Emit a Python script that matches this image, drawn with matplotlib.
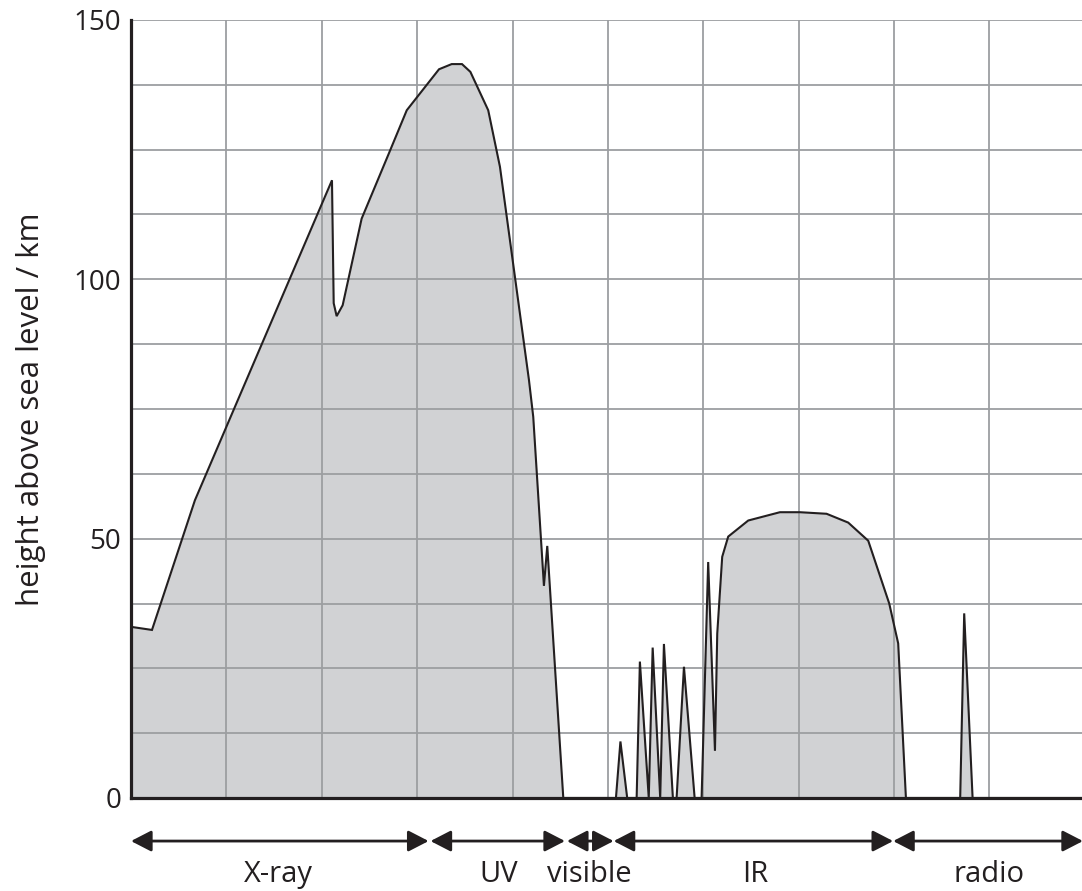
import matplotlib
matplotlib.use("Agg")
import matplotlib.pyplot as plt
from matplotlib.ticker import MultipleLocator

plt.rcParams['font.family'] = ['Open Sans', 'DejaVu Sans']

# x position along the (unlabelled) wavelength axis, in grid units
position = [0.0, 0.22, 0.67, 2.107, 2.125, 2.156, 2.219, 2.418, 2.704, 2.891,
            3.229, 3.362, 3.47, 3.558, 3.745, 3.868, 4.172, 4.217, 4.329, 4.364,
            4.532, 5.084, 5.131, 5.202, 5.301, 5.335, 5.428, 5.469, 5.548, 5.587,
            5.681, 5.720, 5.797, 5.909, 5.982, 6.051, 6.122, 6.146, 6.198, 6.261,
            6.471, 6.803, 7.013, 7.292, 7.519, 7.729, 7.949, 8.043, 8.124, 8.693,
            8.735, 8.823, 9.98]
# height above sea level (km) where radiation is absorbed
height = [33.0, 32.4, 57.4, 119.1, 95.4, 92.9, 95.0, 111.7, 124.3, 132.6,
          140.5, 141.5, 141.5, 140.0, 132.6, 121.7, 80.6, 73.5, 40.9, 48.6,
          0.0, 0.0, 10.9, 0.0, 0.0, 26.3, 0.0, 29.0, 0.0, 29.7,
          0.0, 0.0, 25.3, 0.0, 0.0, 45.5, 9.1, 31.7, 46.5, 50.4,
          53.5, 55.1, 55.1, 54.8, 53.1, 49.6, 37.5, 29.8, 0.0, 0.0,
          35.6, 0.0, 0.0]

band_names = ["X-ray", "UV", "visible", "IR", "radio"]
band_start = [0.0, 3.14, 4.57, 5.06, 7.99]
band_end = [3.12, 4.55, 5.06, 7.99, 9.98]
band_label_x = [1.55, 3.85, 4.81, 6.54, 9.0]

y_ticks = [0, 50, 100, 150]

ink = "#231f20"
fill_col = "#d1d2d4"
grid_col = "#9c9ea1"

fig = plt.figure(figsize=(10.82, 8.91), dpi=100)
ax = fig.add_axes([131 / 1082, (891 - 798) / 891, (1082 - 131) / 1082, (798 - 20) / 891])

ax.fill_between(position, height, 0, color=fill_col, lw=0, zorder=1)
ax.plot(position, height, color=ink, lw=1.5, zorder=3, solid_joinstyle='miter')

ax.set_xlim(0, 9.97)
ax.set_ylim(0, 150)
ax.xaxis.set_major_locator(MultipleLocator(1))
ax.set_yticks(y_ticks)
ax.yaxis.set_minor_locator(MultipleLocator(12.5))
ax.set_xticklabels([])
ax.tick_params(axis='both', which='both', length=0)
ax.tick_params(axis='y', labelsize=20, pad=7, labelcolor=ink)
ax.grid(True, which='both', color=grid_col, lw=1.3)
ax.set_axisbelow(False)
for gl in ax.get_xgridlines() + ax.get_ygridlines():
    gl.set_zorder(2)
for s in ['top', 'right']:
    ax.spines[s].set_visible(False)
for s in ['left', 'bottom']:
    ax.spines[s].set_color(ink)
    ax.spines[s].set_linewidth(2.3)
    ax.spines[s].set_zorder(4)

ax.set_ylabel("height above sea level / km", fontsize=22.5, color=ink, labelpad=20)

arrow_y = -8.3
label_y = -16.2
for name, x0, x1, lx in zip(band_names, band_start, band_end, band_label_x):
    ax.annotate('', xy=(x1, arrow_y), xytext=(x0, arrow_y),
                arrowprops=dict(arrowstyle='<|-|>,head_length=0.62,head_width=0.32',
                                mutation_scale=20, lw=2, color=ink,
                                shrinkA=0, shrinkB=0),
                annotation_clip=False)
    ax.text(lx, label_y, name, ha='center', va='baseline', fontsize=21,
            color=ink, clip_on=False)

fig.savefig("out.png", dpi=100)
